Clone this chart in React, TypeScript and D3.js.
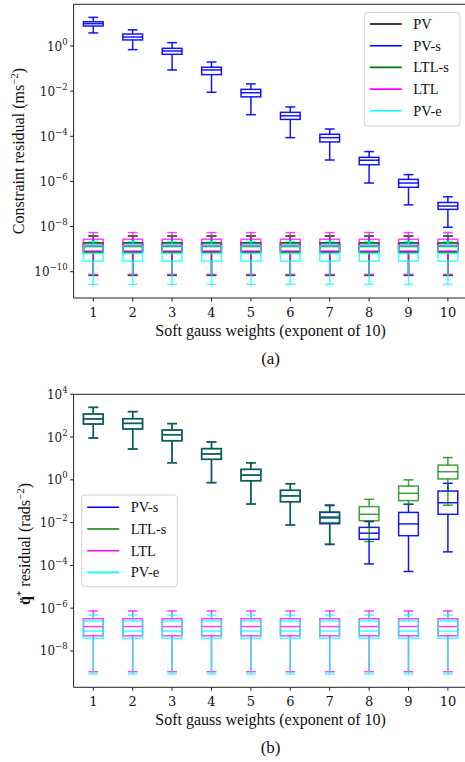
import React from 'react';
import * as d3 from 'd3';

const categories = [1, 2, 3, 4, 5, 6, 7, 8, 9, 10];
const tickLabels = ['1', '2', '3', '4', '5', '6', '7', '8', '9', '10'];

// Each row: [lower whisker, Q1, median, Q3, upper whisker]
// ---- (a) constraint residual ----
const topPV: number[][] = [
  [6.9e-11, 7.6e-10, 1.4e-9, 1.9e-9, 3.8e-9], [6.9e-11, 7.6e-10, 1.4e-9, 1.9e-9, 3.8e-9],
  [6.9e-11, 7.6e-10, 1.4e-9, 1.9e-9, 3.8e-9], [6.9e-11, 7.6e-10, 1.4e-9, 1.9e-9, 3.8e-9],
  [6.9e-11, 7.6e-10, 1.4e-9, 1.9e-9, 3.8e-9], [6.9e-11, 7.6e-10, 1.4e-9, 1.9e-9, 3.8e-9],
  [6.9e-11, 7.6e-10, 1.4e-9, 1.9e-9, 3.8e-9], [6.9e-11, 7.6e-10, 1.4e-9, 1.9e-9, 3.8e-9],
  [6.9e-11, 7.6e-10, 1.4e-9, 1.9e-9, 3.8e-9], [6.9e-11, 7.6e-10, 1.4e-9, 1.9e-9, 3.8e-9],
];
const topPVs: number[][] = [
  [3.8, 7.7, 9.8, 11.9, 18.6],
  [0.69, 1.86, 2.5, 3.4, 5.2],
  [0.087, 0.43, 0.6, 0.79, 1.41],
  [8.9e-3, 5.4e-2, 8.7e-2, 1.15e-1, 1.95e-1],
  [9.1e-4, 5.6e-3, 8.5e-3, 1.2e-2, 2.1e-2],
  [8.7e-5, 5.6e-4, 8.1e-4, 1.15e-3, 2.0e-3],
  [8.9e-6, 5.6e-5, 8.7e-5, 1.23e-4, 2.1e-4],
  [8.5e-7, 5.5e-6, 8.7e-6, 1.17e-5, 2.1e-5],
  [9.1e-8, 5.5e-7, 8.5e-7, 1.23e-6, 2.0e-6],
  [9.3e-9, 5.8e-8, 8.1e-8, 1.17e-7, 2.1e-7],
];
const topLTLs: number[][] = [
  [6.9e-11, 7.6e-10, 1.3e-9, 1.9e-9, 3.8e-9], [6.9e-11, 7.6e-10, 1.3e-9, 1.9e-9, 3.8e-9],
  [6.9e-11, 7.6e-10, 1.3e-9, 1.9e-9, 3.8e-9], [6.9e-11, 7.6e-10, 1.3e-9, 1.9e-9, 3.8e-9],
  [6.9e-11, 7.6e-10, 1.3e-9, 1.9e-9, 3.8e-9], [6.9e-11, 7.6e-10, 1.3e-9, 1.9e-9, 3.8e-9],
  [6.9e-11, 7.6e-10, 1.3e-9, 1.9e-9, 3.8e-9], [6.9e-11, 7.6e-10, 1.3e-9, 1.9e-9, 3.8e-9],
  [6.9e-11, 7.6e-10, 1.3e-9, 1.9e-9, 3.8e-9], [6.9e-11, 7.6e-10, 1.3e-9, 1.9e-9, 3.8e-9],
];
const topLTL: number[][] = [
  [7.6e-11, 8.3e-10, 1.5e-9, 2.75e-9, 5.4e-9], [7.6e-11, 8.3e-10, 1.5e-9, 2.75e-9, 5.4e-9],
  [7.6e-11, 8.3e-10, 1.5e-9, 2.75e-9, 5.4e-9], [7.6e-11, 8.3e-10, 1.5e-9, 2.75e-9, 5.4e-9],
  [7.6e-11, 8.3e-10, 1.5e-9, 2.75e-9, 5.4e-9], [7.6e-11, 8.3e-10, 1.5e-9, 2.75e-9, 5.4e-9],
  [7.6e-11, 8.3e-10, 1.5e-9, 2.75e-9, 5.4e-9], [7.6e-11, 8.3e-10, 1.5e-9, 2.75e-9, 5.4e-9],
  [7.6e-11, 8.3e-10, 1.5e-9, 2.75e-9, 5.4e-9], [7.6e-11, 8.3e-10, 1.5e-9, 2.75e-9, 5.4e-9],
];
const topPVe: number[][] = [
  [2.75e-11, 2.95e-10, 6.3e-10, 1.4e-9, 2.2e-9], [2.75e-11, 2.95e-10, 6.3e-10, 1.4e-9, 2.2e-9],
  [2.75e-11, 2.95e-10, 6.3e-10, 1.4e-9, 2.2e-9], [2.75e-11, 2.95e-10, 6.3e-10, 1.4e-9, 2.2e-9],
  [2.75e-11, 2.95e-10, 6.3e-10, 1.4e-9, 2.2e-9], [2.75e-11, 2.95e-10, 6.3e-10, 1.4e-9, 2.2e-9],
  [2.75e-11, 2.95e-10, 6.3e-10, 1.4e-9, 2.2e-9], [2.75e-11, 2.95e-10, 6.3e-10, 1.4e-9, 2.2e-9],
  [2.75e-11, 2.95e-10, 6.3e-10, 1.4e-9, 2.2e-9], [2.75e-11, 2.95e-10, 6.3e-10, 1.4e-9, 2.2e-9],
];

// ---- (b) q-ddot residual ----
const botPVs: number[][] = [
  [91, 407, 708, 1200, 2450],
  [27.5, 240, 437, 724, 1550],
  [6.3, 67.6, 129, 214, 427],
  [0.74, 9.1, 16.2, 28.8, 58.9],
  [0.074, 0.91, 1.66, 3.09, 6.3],
  [7.8e-3, 9.5e-2, 0.178, 0.324, 0.66],
  [9.5e-4, 8.9e-3, 1.66e-2, 3.0e-2, 6.3e-2],
  [1.17e-4, 1.66e-3, 3.2e-3, 6.0e-3, 1.12e-2],
  [5.2e-5, 2.45e-3, 8.7e-3, 3.0e-2, 7.2e-2],
  [4.3e-4, 2.45e-2, 8.5e-2, 0.3, 0.69],
];
const botLTLs: number[][] = [
  [91, 407, 708, 1200, 2450],
  [27.5, 240, 437, 724, 1550],
  [6.3, 67.6, 129, 214, 427],
  [0.74, 9.1, 16.2, 28.8, 58.9],
  [0.074, 0.91, 1.66, 3.09, 6.3],
  [7.8e-3, 9.5e-2, 0.178, 0.324, 0.66],
  [1.0e-3, 1.0e-2, 1.9e-2, 3.2e-2, 6.9e-2],
  [1.3e-3, 1.23e-2, 2.45e-2, 5.6e-2, 0.123],
  [7.2e-2, 0.107, 0.234, 0.51, 1.0],
  [6.5e-2, 1.1, 2.4, 4.9, 11.0],
];
const botLTL: number[][] = [
  [1.07e-9, 5.1e-8, 1.38e-7, 3.2e-7, 7.4e-7], [1.07e-9, 5.1e-8, 1.38e-7, 3.2e-7, 7.4e-7],
  [1.07e-9, 5.1e-8, 1.38e-7, 3.2e-7, 7.4e-7], [1.07e-9, 5.1e-8, 1.38e-7, 3.2e-7, 7.4e-7],
  [1.07e-9, 5.1e-8, 1.38e-7, 3.2e-7, 7.4e-7], [1.07e-9, 5.1e-8, 1.38e-7, 3.2e-7, 7.4e-7],
  [1.07e-9, 5.1e-8, 1.38e-7, 3.2e-7, 7.4e-7], [1.07e-9, 5.1e-8, 1.38e-7, 3.2e-7, 7.4e-7],
  [1.07e-9, 5.1e-8, 1.38e-7, 3.2e-7, 7.4e-7], [1.07e-9, 5.1e-8, 1.38e-7, 3.2e-7, 7.4e-7],
];
const botPVe: number[][] = [
  [8.3e-10, 3.9e-8, 8.5e-8, 2.5e-7, 4.8e-7], [8.3e-10, 3.9e-8, 8.5e-8, 2.5e-7, 4.8e-7],
  [8.3e-10, 3.9e-8, 8.5e-8, 2.5e-7, 4.8e-7], [8.3e-10, 3.9e-8, 8.5e-8, 2.5e-7, 4.8e-7],
  [8.3e-10, 3.9e-8, 8.5e-8, 2.5e-7, 4.8e-7], [8.3e-10, 3.9e-8, 8.5e-8, 2.5e-7, 4.8e-7],
  [8.3e-10, 3.9e-8, 8.5e-8, 2.5e-7, 4.8e-7], [8.3e-10, 3.9e-8, 8.5e-8, 2.5e-7, 4.8e-7],
  [8.3e-10, 3.9e-8, 8.5e-8, 2.5e-7, 4.8e-7], [8.3e-10, 3.9e-8, 8.5e-8, 2.5e-7, 4.8e-7],
];

const topTickExps = [0, -2, -4, -6, -8, -10];
const botTickExps = [4, 2, 0, -2, -4, -6, -8];

const COLORS: Record<string, string> = {
  PV: '#000000',
  'PV-s': '#0000ff',
  'LTL-s': '#008000',
  LTL: '#ff00ff',
  'PV-e': '#00ffff',
};
const OPACITY: Record<string, number> = {
  PV: 0.8,
  'PV-s': 0.92,
  'LTL-s': 0.75,
  LTL: 0.75,
  'PV-e': 0.75,
};

const FONT = "'Liberation Serif', 'Times New Roman', serif";
const TICKFONT = "'DejaVu Serif', serif";
const AX_LEFT = 73.6;
const AX_RIGHT = 467.6;

type Series = { name: string; data: number[][] };

function BoxSet({ data, color, opacity, x, y, bw }: { data: number[][]; color: string; opacity: number; x: d3.ScaleLinear<number, number>; y: d3.ScaleLogarithmic<number, number>; bw: number }) {
  return (
    <g stroke={color} strokeOpacity={opacity} strokeWidth={1.5} fill="none">
      {data.map((d, i) => {
        const cx = x(categories[i]);
        const [lo, q1, med, q3, hi] = d.map((v) => y(v));
        const cap = bw / 4;
        return (
          <g key={i}>
            <rect x={cx - bw / 2} y={q3} width={bw} height={q1 - q3} />
            <line x1={cx - bw / 2} x2={cx + bw / 2} y1={med} y2={med} />
            <line x1={cx} x2={cx} y1={q1} y2={lo} />
            <line x1={cx} x2={cx} y1={q3} y2={hi} />
            <line x1={cx - cap} x2={cx + cap} y1={lo} y2={lo} />
            <line x1={cx - cap} x2={cx + cap} y1={hi} y2={hi} />
          </g>
        );
      })}
    </g>
  );
}

function Panel({ top, bottom, logTop, logBottom, series, tickExps, yLabel, caption, legend }: {
  top: number; bottom: number; logTop: number; logBottom: number; series: Series[]; tickExps: number[];
  yLabel: React.ReactNode; caption: string; legend: React.ReactNode;
}) {
  const x = d3.scaleLinear().domain([0.5, 10.5]).range([AX_LEFT, AX_RIGHT]);
  const y = d3.scaleLog().domain([Math.pow(10, logBottom), Math.pow(10, logTop)]).range([bottom, top]);
  const bw = (x(2) - x(1)) * 0.5;
  const cx = (AX_LEFT + AX_RIGHT) / 2;
  return (
    <g>
      {series.map((s) => (
        <BoxSet key={s.name} data={s.data} color={COLORS[s.name]} opacity={OPACITY[s.name]} x={x} y={y} bw={bw} />
      ))}
      <g stroke="#222" strokeWidth={1} fill="none">
        <line x1={AX_LEFT} x2={AX_LEFT} y1={top} y2={bottom} />
        <line x1={AX_LEFT} x2={AX_RIGHT} y1={bottom} y2={bottom} />
        <line x1={AX_LEFT} x2={AX_RIGHT} y1={top} y2={top} />
        <line x1={AX_RIGHT} x2={AX_RIGHT} y1={top} y2={bottom} />
      </g>
      {tickExps.map((e) => {
        const ty = y(Math.pow(10, e));
        return (
          <g key={e}>
            <line x1={AX_LEFT - 3.5} x2={AX_LEFT} y1={ty} y2={ty} stroke="#222" strokeWidth={1} />
            <text x={AX_LEFT - 6} y={ty + 4.5} textAnchor="end" fontFamily={TICKFONT} fontSize={12} fill="#222">
              10
              <tspan dy={-6} fontSize={8.5}>{e < 0 ? '\u2212' + Math.abs(e) : String(e)}</tspan>
            </text>
          </g>
        );
      })}
      {categories.map((c, i) => {
        const tx = x(c);
        return (
          <g key={c}>
            <line x1={tx} x2={tx} y1={bottom} y2={bottom + 3.5} stroke="#222" strokeWidth={1} />
            <text x={tx} y={bottom + 18.5} textAnchor="middle" fontFamily={TICKFONT} fontSize={13} fill="#111">
              {tickLabels[i]}
            </text>
          </g>
        );
      })}
      <text x={cx} y={bottom + 37.5} textAnchor="middle" fontFamily={FONT} fontSize={16} fill="#111">
        Soft gauss weights (exponent of 10)
      </text>
      <text x={cx} y={bottom + 66} textAnchor="middle" fontFamily={FONT} fontSize={17} fill="#111">
        {caption}
      </text>
      {yLabel}
      {legend}
    </g>
  );
}

function Legend({ x0, y0, w, h, names, firstY, step }: { x0: number; y0: number; w: number; h: number; names: string[]; firstY: number; step: number }) {
  return (
    <g>
      <rect x={x0} y={y0} width={w} height={h} rx={3} fill="#ffffff" fillOpacity={0.85} stroke="#d0d0d0" strokeWidth={1} />
      {names.map((n, i) => {
        const yy = firstY + i * step;
        return (
          <g key={n}>
            <line x1={x0 + 5.5} x2={x0 + 37.5} y1={yy} y2={yy} stroke={COLORS[n]} strokeWidth={1.6} />
            <text x={x0 + 49} y={yy + 5} fontFamily={FONT} fontSize={14.5} fill="#111">{n}</text>
          </g>
        );
      })}
    </g>
  );
}

export default function App() {
  const topSeries: Series[] = [
    { name: 'PV', data: topPV },
    { name: 'PV-s', data: topPVs },
    { name: 'LTL-s', data: topLTLs },
    { name: 'LTL', data: topLTL },
    { name: 'PV-e', data: topPVe },
  ];
  const botSeries: Series[] = [
    { name: 'PV-s', data: botPVs },
    { name: 'LTL-s', data: botLTLs },
    { name: 'LTL', data: botLTL },
    { name: 'PV-e', data: botPVe },
  ];
  return (
    <div style={{ position: 'absolute', left: 0, top: 0 }}>
      <svg width={465} height={762} style={{ display: 'block', background: '#fff' }}>
        <Panel
          top={4.3}
          bottom={298}
          logTop={1.848}
          logBottom={-11.165}
          series={topSeries}
          tickExps={topTickExps}
          caption="(a)"
          yLabel={
            <text transform="translate(23.5,151) rotate(-90)" textAnchor="middle" fontFamily={FONT} fontSize={16} fill="#111">
              Constraint residual (ms
              <tspan dy={-6} fontSize={11}>{'\u22122'}</tspan>
              <tspan dy={6}>)</tspan>
            </text>
          }
          legend={<Legend x0={364.3} y0={12.7} w={95.7} h={113.3} names={['PV', 'PV-s', 'LTL-s', 'LTL', 'PV-e']} firstY={24} step={21.7} />}
        />
        <Panel
          top={394.3}
          bottom={687.3}
          logTop={4}
          logBottom={-9.7}
          series={botSeries}
          tickExps={botTickExps}
          caption="(b)"
          yLabel={
            <text transform="translate(30,544) rotate(-90)" textAnchor="middle" fontFamily={FONT} fontSize={16} fill="#111">
              <tspan fontWeight="bold">{'q\u0308'}</tspan>
              <tspan dy={-6} fontSize={11}>*</tspan>
              <tspan dy={6}> residual (rads</tspan>
              <tspan dy={-6} fontSize={11}>{'\u22122'}</tspan>
              <tspan dy={6}>)</tspan>
            </text>
          }
          legend={<Legend x0={81.7} y0={495} w={95.6} h={91.7} names={['PV-s', 'LTL-s', 'LTL', 'PV-e']} firstY={507.3} step={21.7} />}
        />
      </svg>
    </div>
  );
}
